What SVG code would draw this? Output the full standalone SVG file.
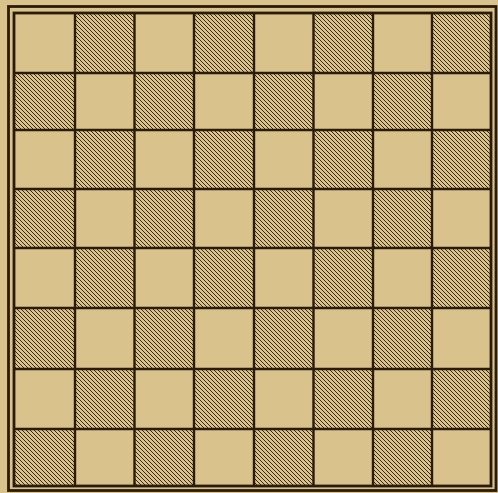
<svg xmlns="http://www.w3.org/2000/svg" width="498" height="493" viewBox="0 0 498 493">
<defs>
<pattern id="hatch" patternUnits="userSpaceOnUse" width="4" height="4">
<path d="M-1,-1 L5,5 M-1,3 L1,5 M3,-1 L5,1" stroke="#3a2a12" stroke-width="1" fill="none"/>
</pattern>
<style>
.bg{fill:#dac28d}
.h{fill:url(#hatch)}
.ln{stroke:#2a1c0c;stroke-width:2.4;fill:none}
.fr{stroke:#2a1c0c;stroke-width:2.8;fill:none}
</style>
</defs>
<rect x="0" y="0" width="498" height="493" class="bg"/>
<g id="dark-squares">
<rect class="h" x="75" y="13" width="59.5" height="60"/>
<rect class="h" x="194" y="13" width="60" height="60"/>
<rect class="h" x="313.5" y="13" width="59.5" height="60"/>
<rect class="h" x="432" y="13" width="59" height="60"/>
<rect class="h" x="14" y="73" width="61" height="57"/>
<rect class="h" x="134.5" y="73" width="59.5" height="57"/>
<rect class="h" x="254" y="73" width="59.5" height="57"/>
<rect class="h" x="373" y="73" width="59" height="57"/>
<rect class="h" x="75" y="130" width="59.5" height="59"/>
<rect class="h" x="194" y="130" width="60" height="59"/>
<rect class="h" x="313.5" y="130" width="59.5" height="59"/>
<rect class="h" x="432" y="130" width="59" height="59"/>
<rect class="h" x="14" y="189" width="61" height="59"/>
<rect class="h" x="134.5" y="189" width="59.5" height="59"/>
<rect class="h" x="254" y="189" width="59.5" height="59"/>
<rect class="h" x="373" y="189" width="59" height="59"/>
<rect class="h" x="75" y="248" width="59.5" height="60"/>
<rect class="h" x="194" y="248" width="60" height="60"/>
<rect class="h" x="313.5" y="248" width="59.5" height="60"/>
<rect class="h" x="432" y="248" width="59" height="60"/>
<rect class="h" x="14" y="308" width="61" height="61"/>
<rect class="h" x="134.5" y="308" width="59.5" height="61"/>
<rect class="h" x="254" y="308" width="59.5" height="61"/>
<rect class="h" x="373" y="308" width="59" height="61"/>
<rect class="h" x="75" y="369" width="59.5" height="60"/>
<rect class="h" x="194" y="369" width="60" height="60"/>
<rect class="h" x="313.5" y="369" width="59.5" height="60"/>
<rect class="h" x="432" y="369" width="59" height="60"/>
<rect class="h" x="14" y="429" width="61" height="57"/>
<rect class="h" x="134.5" y="429" width="59.5" height="57"/>
<rect class="h" x="254" y="429" width="59.5" height="57"/>
<rect class="h" x="373" y="429" width="59" height="57"/>
</g>
<g id="grid">
<path class="ln" d="M75,13V486 M134.5,13V486 M194,13V486 M254,13V486 M313.5,13V486 M373,13V486 M432,13V486"/>
<path class="ln" d="M14,73H491 M14,130H491 M14,189H491 M14,248H491 M14,308H491 M14,369H491 M14,429H491"/>
</g>
<g id="frame">
<rect class="fr" x="14" y="13" width="477" height="473"/>
<rect class="fr" x="8.5" y="6.5" width="487.5" height="484"/>
</g>
</svg>
